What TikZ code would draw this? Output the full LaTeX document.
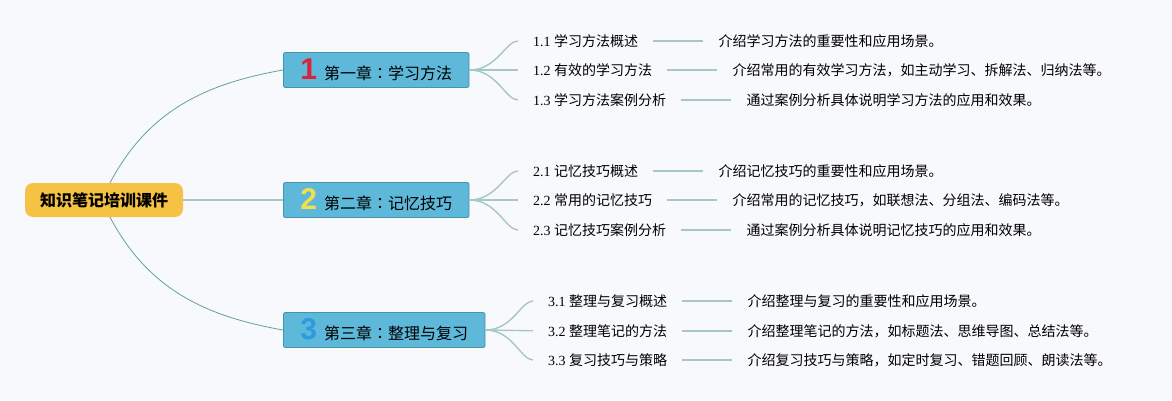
\documentclass[tikz,border=0pt]{standalone}
\usepackage{fontspec}
\setmainfont{Liberation Serif}
\newfontfamily\cjk{Noto Sans CJK SC}
\newfontfamily\cjktc{Noto Sans CJK TC}
\newfontfamily\numfont{Liberation Sans}
\usetikzlibrary{calc}

\definecolor{paper}{HTML}{F8F9FD}
\definecolor{rootfill}{HTML}{F5C244}
\definecolor{chapfill}{HTML}{5DB8DA}
\definecolor{chapedge}{HTML}{4595A6}
\definecolor{twig}{HTML}{A6C7C3}
\definecolor{stem}{HTML}{63A09C}
\definecolor{numred}{HTML}{D8243C}
\definecolor{numyellow}{HTML}{F1DF4E}
\definecolor{numblue}{HTML}{2C9BE0}

\newcommand\chapnum[2]{{\color{#1}\numfont\bfseries\fontsize{30}{30}\selectfont #2}\hspace{7pt}}
\newcommand\chapcolon{{\cjktc ：}}

\begin{document}
\begin{tikzpicture}[
    x = 1pt,
    y = 1pt,
    root/.style = {
      fill = rootfill,
      rounded corners = 8pt,
      minimum width = 158pt,
      minimum height = 34pt,
      inner sep = 0pt,
      font = \cjk\bfseries\fontsize{16}{18}\selectfont
    },
    chapter/.style = {
      anchor = west,
      fill = chapfill,
      draw = chapedge,
      line width = 0.8pt,
      rounded corners = 2pt,
      minimum height = 35pt,
      inner xsep = 17pt,
      inner ysep = 0pt,
      font = \cjk\fontsize{16}{18}\selectfont
    },
    topic/.style = {
      anchor = west,
      inner sep = 0pt,
      text height = 12pt,
      text depth = 1.4pt,
      font = \fontsize{14}{16}\selectfont
    },
    note/.style = {
      topic,
      font = \cjk\fontsize{14}{16}\selectfont
    },
    stemline/.style = {draw = stem, line width = 0.8pt},
    twigline/.style = {draw = twig, line width = 1.4pt},
    link/.style = {twigline, shorten <= 15pt, shorten >= 15pt}
  ]
  \useasboundingbox[fill = paper] (0,0) rectangle (1172,400);

  % root and chapters
  \node[root] (root) at (104,200) {知识笔记培训课件};
  \node[chapter] (ch1) at (283,330) {\chapnum{numred}{1}第一章\chapcolon 学习方法};
  \node[chapter] (ch2) at (283,200) {\chapnum{numyellow}{2}第二章\chapcolon 记忆技巧};
  \node[chapter] (ch3) at (283,70) {\chapnum{numblue}{3}第三章\chapcolon 整理与复习};

  \draw[stemline] ([xshift=6pt]root.north) to[out=62, in=190] (ch1.west);
  \draw[twigline] (root.east) -- (ch2.west);
  \draw[stemline] ([xshift=6pt]root.south) to[out=-62, in=170] (ch3.west);

  % chapter 1
  \node[topic] (s11) at (533,359) {1.1 {\cjk 学习方法概述}};
  \node[topic] (s12) at (533,330) {1.2 {\cjk 有效的学习方法}};
  \node[topic] (s13) at (533,300) {1.3 {\cjk 学习方法案例分析}};
  \node[note] (d11) at ($(s11.east)+(80,0)$) {介绍学习方法的重要性和应用场景。};
  \node[note] (d12) at ($(s12.east)+(80,0)$) {介绍常用的有效学习方法，如主动学习、拆解法、归纳法等。};
  \node[note] (d13) at ($(s13.east)+(80,0)$) {通过案例分析具体说明学习方法的应用和效果。};

  \draw[twigline, shorten >= 15pt] (ch1.east) to[out=0, in=180] (s11.west);
  \draw[twigline, shorten >= 15pt] (ch1.east) -- (s12.west);
  \draw[twigline, shorten >= 15pt] (ch1.east) to[out=0, in=180] (s13.west);
  \draw[link] (s11.east) -- (d11.west);
  \draw[link] (s12.east) -- (d12.west);
  \draw[link] (s13.east) -- (d13.west);

  % chapter 2
  \node[topic] (s21) at (533,229) {2.1 {\cjk 记忆技巧概述}};
  \node[topic] (s22) at (533,200) {2.2 {\cjk 常用的记忆技巧}};
  \node[topic] (s23) at (533,170) {2.3 {\cjk 记忆技巧案例分析}};
  \node[note] (d21) at ($(s21.east)+(80,0)$) {介绍记忆技巧的重要性和应用场景。};
  \node[note] (d22) at ($(s22.east)+(80,0)$) {介绍常用的记忆技巧，如联想法、分组法、编码法等。};
  \node[note] (d23) at ($(s23.east)+(80,0)$) {通过案例分析具体说明记忆技巧的应用和效果。};

  \draw[twigline, shorten >= 15pt] (ch2.east) to[out=0, in=180] (s21.west);
  \draw[twigline, shorten >= 15pt] (ch2.east) -- (s22.west);
  \draw[twigline, shorten >= 15pt] (ch2.east) to[out=0, in=180] (s23.west);
  \draw[link] (s21.east) -- (d21.west);
  \draw[link] (s22.east) -- (d22.west);
  \draw[link] (s23.east) -- (d23.west);

  % chapter 3
  \node[topic] (s31) at (548,99) {3.1 {\cjk 整理与复习概述}};
  \node[topic] (s32) at (548,69) {3.2 {\cjk 整理笔记的方法}};
  \node[topic] (s33) at (548,40) {3.3 {\cjk 复习技巧与策略}};
  \node[note] (d31) at ($(s31.east)+(80,0)$) {介绍整理与复习的重要性和应用场景。};
  \node[note] (d32) at ($(s32.east)+(80,0)$) {介绍整理笔记的方法，如标题法、思维导图、总结法等。};
  \node[note] (d33) at ($(s33.east)+(80,0)$) {介绍复习技巧与策略，如定时复习、错题回顾、朗读法等。};

  \draw[twigline, shorten >= 15pt] (ch3.east) to[out=0, in=180] (s31.west);
  \draw[twigline, shorten >= 15pt] (ch3.east) -- (s32.west);
  \draw[twigline, shorten >= 15pt] (ch3.east) to[out=0, in=180] (s33.west);
  \draw[link] (s31.east) -- (d31.west);
  \draw[link] (s32.east) -- (d32.west);
  \draw[link] (s33.east) -- (d33.west);
\end{tikzpicture}
\end{document}
